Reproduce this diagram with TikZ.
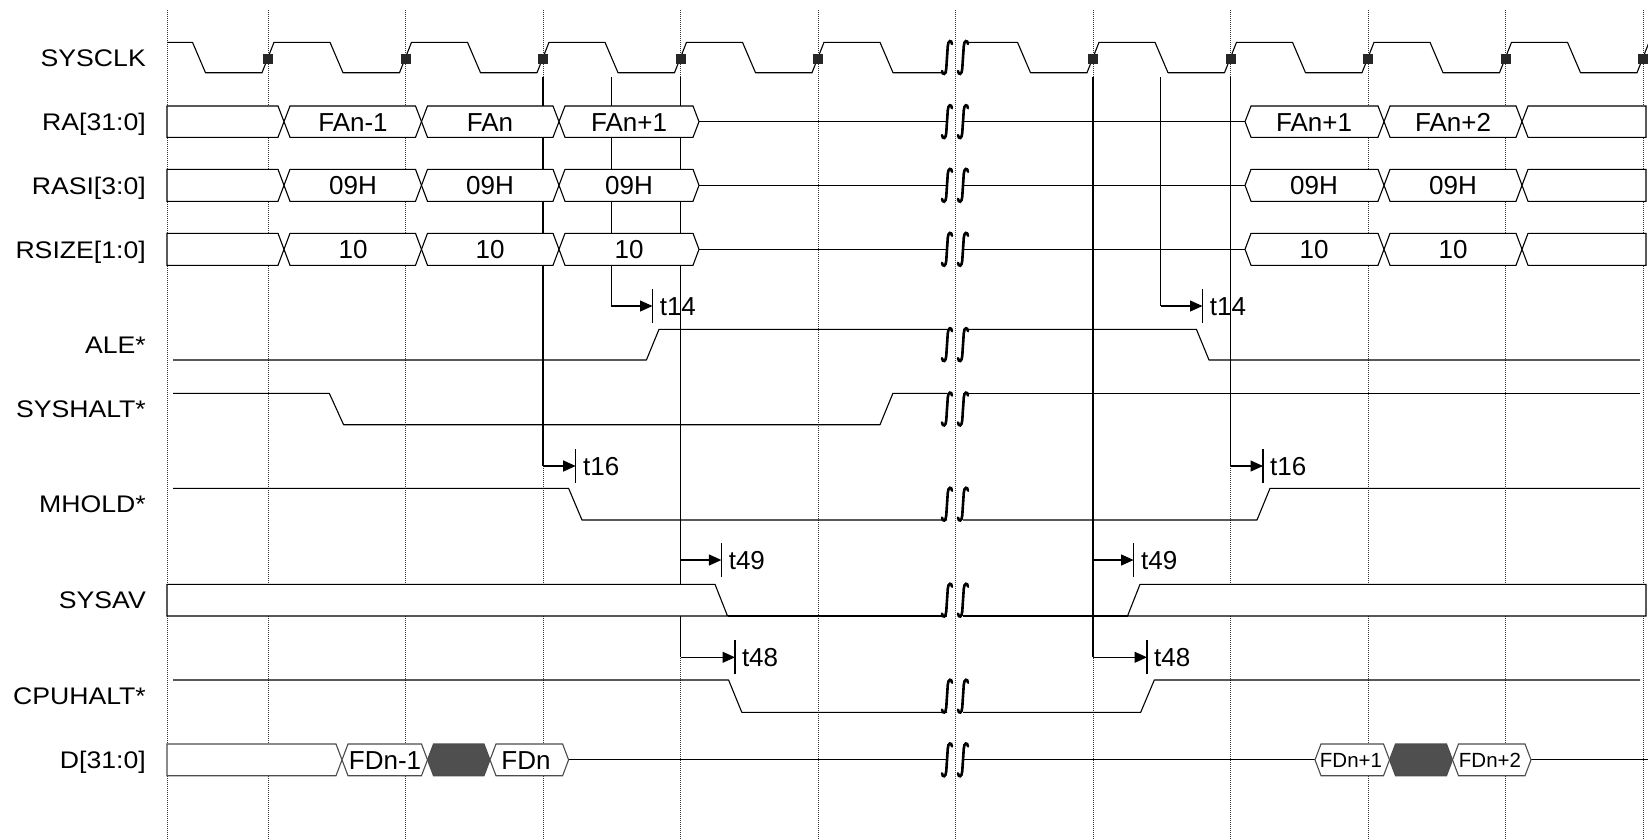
\documentclass[tikz,border=0pt]{standalone}
\usepackage{fontspec}
\setmainfont{Liberation Sans}
\newfontfamily\lblfont{Liberation Sans}[FakeStretch=1.11]
\usetikzlibrary{arrows.meta}
\newcommand{\tdHex}[5]{\draw[#1] (#2,{(#4+#5)/2}) -- (#2+6,#4) -- (#3-6,#4) -- (#3,{(#4+#5)/2}) -- (#3-6,#5) -- (#2+6,#5) -- cycle;}
\newcommand{\tdL}[4]{\draw[#1] (167,#3) -- (#2-6,#3) -- (#2,{(#3+#4)/2}) -- (#2-6,#4) -- (167,#4) -- cycle;}
\newcommand{\tdR}[4]{\draw[#1] (#2,{(#3+#4)/2}) -- (#2+6,#3) -- (1646,#3) -- (1646,#4) -- (#2+6,#4) -- cycle;}
\tikzset{
 gridln/.style={black!80, line width=0.9pt, dash pattern=on 1pt off 1pt},
 sig/.style={line width=1.1pt, line join=round},
 bus/.style={draw=black, fill=white, line width=1.1pt},
 dbus/.style={draw=black!70, fill=white, line width=1.1pt},
 dark/.style={draw=black!70, fill=black!69, line width=1.1pt},
 brkln/.style={line width=2.6pt, line cap=round},
 lbl/.style={anchor=base east, inner sep=0pt, font=\lblfont\fontsize{24}{24}\selectfont},
 btxt/.style={anchor=base, inner sep=0pt, font=\fontsize{26}{26}\selectfont},
 stxt/.style={anchor=base, inner sep=0pt, font=\fontsize{20.5}{20.5}\selectfont},
 tlab/.style={anchor=base west, inner sep=0pt, font=\fontsize{26}{26}\selectfont},
 tarr/.style={line width=1.1pt, -{Triangle[length=12.5pt,width=11pt]}},
 refln/.style={line width=1.1pt},
 clksq/.style={fill=black!85, draw=none},
 brk/.pic={
  \draw[brkln] (-3,-13.5) .. controls (-3.5,-18) and (-7,-17.5) .. (-7.3,-11) .. controls (-7.6,-4) and (-8.4,4) .. (-8.7,11) .. controls (-9,17.5) and (-12.5,18) .. (-13,13.5);
  \draw[brkln] (13,-13.5) .. controls (12.5,-18) and (9,-17.5) .. (8.7,-11) .. controls (8.4,-4) and (7.6,4) .. (7.3,11) .. controls (7,17.5) and (3.5,18) .. (3,13.5);
 }
}
\begin{document}
\begin{tikzpicture}[x=1pt,y=-1pt]
\useasboundingbox (0,0) rectangle (1648,839);
% grid
\foreach \g in {167,268,405.5,543,680.5,818,955.5,1093,1230.5,1368,1505.5,1643}
  {\draw[gridln] (\g,10) -- (\g,839);}
% reference lines and timing arrows
\coordinate (r14a) at (611.4,77.3);  \coordinate (a14a) at (611.4,306);  \coordinate (k14a) at (652.5,306);
\coordinate (r14b) at (1160.7,77.3); \coordinate (a14b) at (1160.7,306); \coordinate (k14b) at (1202.5,306);
\coordinate (r16a) at (543,77.3);    \coordinate (a16a) at (543,466);    \coordinate (k16a) at (575.7,466);
\coordinate (r16b) at (1230.5,77.3); \coordinate (a16b) at (1230.5,466); \coordinate (k16b) at (1263,466);
\coordinate (r4a) at (680.5,77.3);   \coordinate (a49a) at (680.5,560);  \coordinate (k49a) at (721.4,560);
\coordinate (a48a) at (680.5,657.3); \coordinate (k48a) at (735,657.3);
\coordinate (r4b) at (1093,77.3);    \coordinate (a49b) at (1093,560);   \coordinate (k49b) at (1133.6,560);
\coordinate (a48b) at (1093,657.3);  \coordinate (k48b) at (1147,657.3);
\draw[refln] (r14a) -- (a14a);
\draw[refln] (r14b) -- (a14b);
\draw[refln] (r16a) -- (a16a);
\draw[refln] (r16b) -- (a16b);
\draw[refln] (r4a) -- (a48a);
\draw[refln] (r4b) -- (a48b);
\foreach \a/\k in {a14a/k14a,a14b/k14b,a16a/k16a,a16b/k16b,a49a/k49a,a49b/k49b,a48a/k48a,a48b/k48b}
  {\draw[tarr] (\a) -- (\k); \draw[refln] ([yshift=-17pt]\k) -- ([yshift=17pt]\k);}
% SYSCLK
\draw[sig] (167,42.3) -- (192.5,42.3) -- (205.5,72.7) -- (262,72.7) -- (274,42.3) -- (330,42.3) -- (343,72.7) -- (399.5,72.7) -- (411.5,42.3) -- (467.5,42.3) -- (480.5,72.7) -- (537,72.7) -- (549,42.3) -- (605,42.3) -- (618,72.7) -- (674.5,72.7) -- (686.5,42.3) -- (742.5,42.3) -- (755.5,72.7) -- (812,72.7) -- (824,42.3) -- (880,42.3) -- (893,72.7) -- (947,72.7);
\draw[sig] (963,42.3) -- (1017.5,42.3) -- (1030.5,72.7) -- (1087,72.7) -- (1099,42.3) -- (1155,42.3) -- (1168,72.7) -- (1224.5,72.7) -- (1236.5,42.3) -- (1292.5,42.3) -- (1305.5,72.7) -- (1362,72.7) -- (1374,42.3) -- (1430,42.3) -- (1443,72.7) -- (1499.5,72.7) -- (1511.5,42.3) -- (1567.5,42.3) -- (1580.5,72.7) -- (1637,72.7) -- (1649,42.3);
\foreach \g in {268,405.5,543,680.5,818,1093,1230.5,1368,1505.5,1643}
  {\fill[clksq] (\g-5,54) rectangle (\g+5,64);}
% RA, RASI, RSIZE
\foreach \T/\B in {106/137.3,169.3/201.3,233.3/265.3}{
  \draw[sig] (699,{(\T+\B)/2}) -- (947,{(\T+\B)/2});
  \draw[sig] (963,{(\T+\B)/2}) -- (1245,{(\T+\B)/2});
  \tdL{bus}{284}{\T}{\B}
  \tdHex{bus}{284}{421.5}{\T}{\B}
  \tdHex{bus}{421.5}{559}{\T}{\B}
  \tdHex{bus}{559}{699}{\T}{\B}
  \tdHex{bus}{1245}{1384}{\T}{\B}
  \tdHex{bus}{1384}{1522}{\T}{\B}
  \tdR{bus}{1522}{\T}{\B}
}
% ALE*
\draw[sig] (173,360) -- (646.4,360) -- (659,329.3) -- (947,329.3);
\draw[sig] (963,329.3) -- (1196.4,329.3) -- (1209,360) -- (1640,360);
% SYSHALT*
\draw[sig] (173,393.3) -- (329.3,393.3) -- (343.6,424.7) -- (880,424.7) -- (892.9,393.3) -- (947,393.3);
\draw[sig] (963,393.3) -- (1640,393.3);
% MHOLD*
\draw[sig] (173,488.3) -- (568.6,488.3) -- (582,520) -- (947,520);
\draw[sig] (963,520) -- (1257,520) -- (1270,488.3) -- (1640,488.3);
% SYSAV
\draw[sig] (727.5,616) -- (947,616);
\draw[sig] (963,616) -- (1127.5,616);
\draw[bus] (167,584.3) -- (715,584.3) -- (727.5,616) -- (167,616) -- cycle;
\draw[bus] (1127.5,616) -- (1140,584.3) -- (1646,584.3) -- (1646,616) -- cycle;
% CPUHALT*
\draw[sig] (173,680) -- (728.6,680) -- (741.8,712.3) -- (947,712.3);
\draw[sig] (963,712.3) -- (1140.7,712.3) -- (1154.3,680) -- (1640,680);
% D[31:0]
\draw[sig] (568.6,759.85) -- (947,759.85);
\draw[sig] (963,759.85) -- (1315,759.85);
\draw[sig] (1531,759.85) -- (1648,759.85);
\tdL{dbus}{342}{744}{775.7}
\tdHex{dbus}{342}{427.5}{744}{775.7}
\tdHex{dark}{427.5}{490}{744}{775.7}
\tdHex{dbus}{490}{568.6}{744}{775.7}
\tdHex{dbus}{1315}{1389.5}{744}{775.7}
\tdHex{dark}{1389.5}{1452.5}{744}{775.7}
\tdHex{dbus}{1452.5}{1531}{744}{775.7}
% breaks
\foreach \y in {57.5,121.65,185.3,249.3,344.65,409,504.15,600.15,696.15,759.85}
  {\pic at (955,\y) {brk};}
% labels
\node[lbl] (lsysclk) at (146,66) {SYSCLK};
\node[lbl] (lra) at (146,130.3) {RA[31:0]};
\node[lbl] (lrasi) at (146,194) {RASI[3:0]};
\node[lbl] (lrsize) at (146,258) {RSIZE[1:0]};
\node[lbl] (lale) at (146,353.3) {ALE*};
\node[lbl] (lsyshalt) at (146,417.6) {SYSHALT*};
\node[lbl] (lmhold) at (146,512.8) {MHOLD*};
\node[lbl] (lsysav) at (146,608.8) {SYSAV};
\node[lbl] (lcpuhalt) at (146,704.8) {CPUHALT*};
\node[lbl] (ld) at (146,768.4) {D[31:0]};
% bus values
\node[btxt] (ra1) at (353,131) {FAn-1};
\node[btxt] (ra2) at (490,131) {FAn};
\node[btxt] (ra3) at (629,131) {FAn+1};
\node[btxt] (ra4) at (1314,131) {FAn+1};
\node[btxt] (ra5) at (1453,131) {FAn+2};
\node[btxt] (rs1) at (353,194.6) {09H};
\node[btxt] (rs2) at (490,194.6) {09H};
\node[btxt] (rs3) at (629,194.6) {09H};
\node[btxt] (rs4) at (1314,194.6) {09H};
\node[btxt] (rs5) at (1453,194.6) {09H};
\node[btxt] (sz1) at (353,258.6) {10};
\node[btxt] (sz2) at (490,258.6) {10};
\node[btxt] (sz3) at (629,258.6) {10};
\node[btxt] (sz4) at (1314,258.6) {10};
\node[btxt] (sz5) at (1453,258.6) {10};
\node[btxt] (d1) at (385,769.2) {FDn-1};
\node[btxt] (d2) at (526,769.2) {FDn};
\node[stxt] (d3) at (1351,767.5) {FDn+1};
\node[stxt] (d4) at (1490,767.5) {FDn+2};
% timing labels
\node[tlab] (t14a) at (659.6,315.3) {t14};
\node[tlab] (t14b) at (1209.6,315.3) {t14};
\node[tlab] (t16a) at (583,475.3) {t16};
\node[tlab] (t16b) at (1270,475.3) {t16};
\node[tlab] (t49a) at (728.6,569.3) {t49};
\node[tlab] (t49b) at (1141,569.3) {t49};
\node[tlab] (t48a) at (741.8,666.6) {t48};
\node[tlab] (t48b) at (1154,666.6) {t48};
\end{tikzpicture}
\end{document}
